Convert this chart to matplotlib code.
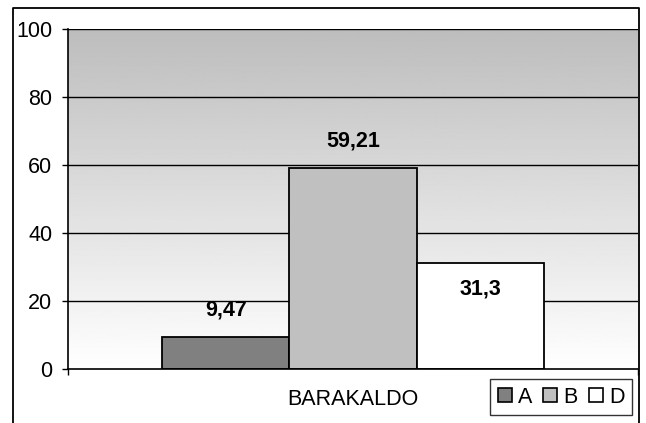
import numpy as np
import matplotlib
matplotlib.use("Agg")
import matplotlib.pyplot as plt
from matplotlib.lines import Line2D
from matplotlib.patches import Patch

plt.rcParams['font.family'] = ['Liberation Sans', 'DejaVu Sans']

category = "BARAKALDO"
series_names = ["A", "B", "D"]
values = [9.47, 59.21, 31.3]
labels = ["9,47", "59,21", "31,3"]
colors = ["#808080", "#c0c0c0", "#ffffff"]
yticks = [0, 20, 40, 60, 80, 100]

FS = 15.5
W, H = 646, 423
fig = plt.figure(figsize=(W / 100, H / 100), dpi=100)
fig.patch.set_facecolor("white")

left, right, top, bottom = 68, 638, 29, 369
ax = fig.add_axes([left / W, 1 - bottom / H, (right - left) / W, (bottom - top) / H])

# gradient background
grad = np.linspace(1.0, 0.74, 256).reshape(-1, 1)
ax.imshow(grad, cmap="gray", vmin=0, vmax=1, aspect="auto",
          extent=[-2.24, 2.24, 0, 100], origin="lower", zorder=0)

ax.set_xlim(-2.24, 2.24)
ax.set_ylim(0, 100)

for v in yticks[1:]:
    ax.axhline(v, color="black", lw=1.0, zorder=1)

positions = [-1, 0, 1]
bars = ax.bar(positions, values, width=1.0, color=colors, edgecolor="black",
              linewidth=1.3, zorder=2)

offsets = [27, 27, -26]
for x, v, lab, off in zip(positions, values, labels, offsets):
    ax.annotate(lab, (x, v), xytext=(0, off * 0.72), textcoords="offset points",
                ha="center", va="center", fontsize=FS, fontweight="bold", zorder=3)

for s in ["top", "right"]:
    ax.spines[s].set_visible(False)
ax.spines["left"].set_color("black")
ax.spines["bottom"].set_color("black")
ax.spines["left"].set_linewidth(1.2)
ax.spines["bottom"].set_linewidth(1.2)

ax.set_yticks(yticks)
ax.set_yticklabels([str(t) for t in yticks], fontsize=FS)
ax.tick_params(axis="y", length=4.3, width=1, pad=7, color="black")
ax.set_xticks([-2.24, 2.24])
ax.set_xticklabels(["", ""])
ax.tick_params(axis="x", length=4, width=1)

ax.text(0, -9, category, ha="center", va="center", fontsize=FS,
        transform=ax.transData, clip_on=False)

handles = [Patch(facecolor=c, edgecolor="black", linewidth=1.2) for c in colors]
leg = fig.legend(handles, series_names, loc="upper left",
                 bbox_to_anchor=(490 / W, 1 - 379 / H), fontsize=FS,
                 ncol=3, frameon=True, fancybox=False, handlelength=0.65,
                 handleheight=0.65, handletextpad=0.3, columnspacing=0.5,
                 borderpad=0.35, borderaxespad=0)
leg.get_frame().set_edgecolor("black")
leg.get_frame().set_linewidth(1.0)

# outer border (open at bottom)
bx0, bx1, by0 = 13 / W, 639 / W, 1 - 8 / H
fig.add_artist(Line2D([bx0, bx0, bx1, bx1], [-0.05, by0, by0, -0.05],
                      transform=fig.transFigure, color="black", lw=1.3))

fig.savefig("out.png", dpi=100)
